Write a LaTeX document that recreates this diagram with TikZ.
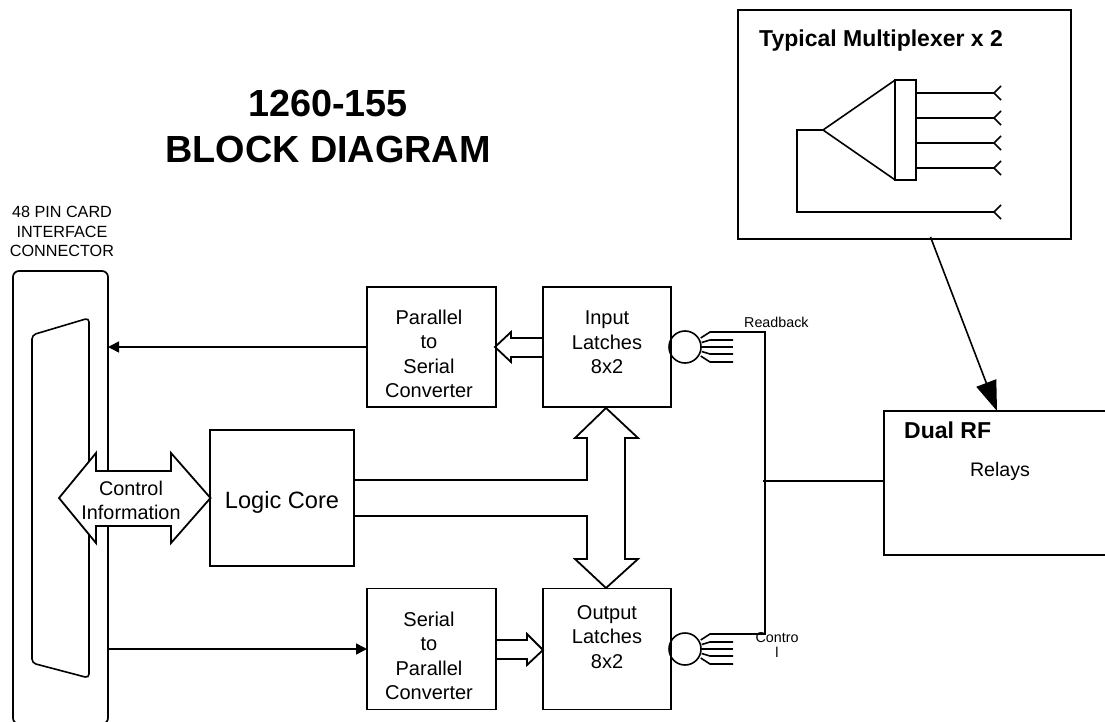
\documentclass[tikz,border=0pt]{standalone}
\usepackage{fontspec}
\setmainfont{Liberation Sans}
\usetikzlibrary{arrows.meta}
\tikzset{
  blockbox/.style={draw, line width=1.7pt, inner sep=0pt, outer sep=0pt},
  wire/.style={line width=1.6pt},
  sigarrow/.style={wire, -{Triangle[length=11pt,width=11pt]}},
  fatarrow/.style={line width=1.8pt, fill=white, line join=miter},
  boxtxt/.style={align=center, inner sep=0pt, font=\fontsize{20}{24.4}\selectfont},
  smalltxt/.style={align=center, inner sep=0pt, font=\fontsize{14.3}{15}\selectfont},
  headtxt/.style={anchor=base west, inner sep=0pt, font=\fontsize{23}{27}\selectfont\bfseries}
}
\begin{document}
\begin{tikzpicture}[x=1pt,y=-1pt]
\useasboundingbox (0,0) rectangle (1105,722);
% title and connector caption
\node[align=center, inner sep=0pt, font=\fontsize{37.8}{46}\selectfont\bfseries] (title) at (328,126.5) {1260-155\\BLOCK DIAGRAM};
\node[align=center, inner sep=0pt, font=\fontsize{16.2}{19.7}\selectfont] (conncap) at (62,231.7) {48 PIN CARD\\INTERFACE\\CONNECTOR};
% card connector
\node[blockbox, rounded corners=6pt, minimum width=95pt, minimum height=453pt] (conn) at (60.5,497.5) {};
\draw[wire, rounded corners=4pt] (32,335) -- (89,318) -- (89,678) -- (32,663) -- cycle;
% multiplexer inset
\node[blockbox, minimum width=333pt, minimum height=229pt] (mux) at (904.5,124.5) {};
\node[headtxt] (muxtxt) at (759,47) {Typical Multiplexer x 2};
\node[blockbox, line width=1.6pt, minimum width=20.5pt, minimum height=100pt] (muxbar) at (905.5,130) {};
\coordinate (muxtip) at (823,130);
\draw[wire, line join=miter] (muxbar.north west) -- (muxtip) -- (muxbar.south west);
\foreach \y in {93,118,143,168}
  \draw[wire] (muxbar.east |- 0,\y) -- (994,\y) ++(7,-7) -- ++(-7,7) -- ++(7,7);
\draw[wire] (muxtip) -- (797,130) -- (797,212) -- (994,212) ++(7,-7) -- ++(-7,7) -- ++(7,7);
% fat arrows between the blocks
\draw[fatarrow] (543,338) -- (511,338) -- (511,332) -- (495,347) -- (511,362) -- (511,357) -- (543,357);
\draw[fatarrow] (495,640) -- (527,640) -- (527,634) -- (543,650) -- (527,665) -- (527,659) -- (495,659);
\draw[fatarrow] (354,480) -- (587,480) -- (587,438) -- (575,438) -- (606,408) -- (638,438) -- (625,438) -- (625,559) -- (638,559) -- (606,588) -- (575,559) -- (587,559) -- (587,516) -- (354,516);
% blocks
\node[blockbox, minimum width=129pt, minimum height=120pt] (par) at (431.5,347) {};
\node[boxtxt] (partxt) at (429,354) {Parallel\\to\\Serial\\Converter};
\node[blockbox, minimum width=128pt, minimum height=120pt] (inl) at (607,347) {};
\node[boxtxt] (inltxt) at (607,342.5) {Input\\Latches\\8x2};
\node[blockbox, minimum width=144pt, minimum height=136pt] (core) at (282,498) {};
\node[boxtxt, font=\fontsize{23.6}{28}\selectfont, anchor=base] (coretxt) at (282,508) {Logic Core};
\node[blockbox, minimum width=129pt, minimum height=121pt] (ser) at (431.5,649) {};
\node[boxtxt] (sertxt) at (429,656) {Serial\\to\\Parallel\\Converter};
\node[blockbox, minimum width=128pt, minimum height=121pt] (outl) at (607,649) {};
\node[boxtxt] (outltxt) at (607,637) {Output\\Latches\\8x2};
\node[blockbox, minimum width=223pt, minimum height=144pt] (rf) at (995.5,483) {};
\node[headtxt] (rftxt) at (904,438) {Dual RF};
\node[boxtxt, font=\fontsize{19.6}{24}\selectfont, anchor=base] (relaytxt) at (1000,476) {Relays};
% serial paths
\draw[sigarrow] (par.west) -- (conn.east |- par.west);
\draw[sigarrow] (conn.east |- ser.west) -- (ser.west);
\draw[line width=1.6pt, -{Triangle[length=30pt,width=21pt]}] (930.5,237) -- (rf.north -| 997,0);
% control arrow over the connector
\draw[fatarrow] (59,498) -- (96,453) -- (96,471) -- (171,471) -- (171,453) -- (210.5,498) -- (171,543) -- (171,526) -- (96,526) -- (96,543) -- cycle;
\node[boxtxt, font=\fontsize{19.8}{24}\selectfont] (ctrltxt) at (131,500) {Control\\Information};
% latch cables
\foreach \cy/\nm in {347/incab,649/outcab} {
  \node[draw, wire, circle, minimum size=32pt, inner sep=0pt, outer sep=0pt] (\nm) at (685,\cy) {};
  \draw[wire] (700.7,\cy-9) -- (710,\cy-15) -- (733,\cy-15);
  \draw[wire] (701.7,\cy-4.5) -- (710,\cy-7) -- (733,\cy-7);
  \draw[wire] (\nm.east) -- (733,\cy);
  \draw[wire] (701.7,\cy+4.5) -- (710,\cy+7) -- (733,\cy+7);
  \draw[wire] (700.7,\cy+9) -- (710,\cy+15) -- (733,\cy+15);
}
\coordinate (busjoin) at (763,481);
\draw[wire] (733,332) -- (765,332) -- (765,634) -- (733,634);
\draw[wire] (busjoin) -- (rf.west |- busjoin);
\node[smalltxt, anchor=base west] (rdtxt) at (744,327) {Readback};
\node[smalltxt] (cttxt) at (777,645) {Contro\\l};
\end{tikzpicture}
\end{document}
